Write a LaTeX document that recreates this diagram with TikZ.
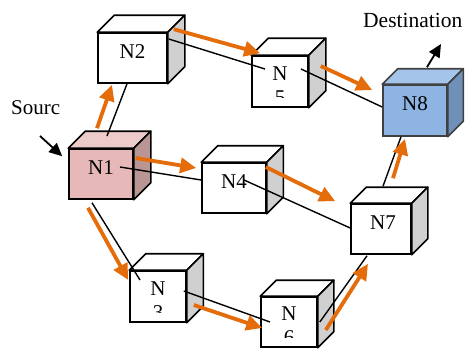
\documentclass[tikz,border=0pt]{standalone}
\usepackage{fontspec}
\setmainfont{Liberation Serif}
\usetikzlibrary{arrows.meta,positioning}
\definecolor{routeorange}{HTML}{E46C0A}
\definecolor{srcfront}{HTML}{E6B9B8}
\definecolor{srctop}{HTML}{EDCBCA}
\definecolor{srcside}{HTML}{B99594}
\definecolor{dstfront}{HTML}{8DB4E2}
\definecolor{dsttop}{HTML}{A5C4EA}
\definecolor{dstside}{HTML}{6F90B8}
\definecolor{dstline}{HTML}{404040}
\definecolor{cubeside}{HTML}{D0D0D0}

\begin{document}
\begin{tikzpicture}[
    x=1pt, y=-1pt,
    font=\fontsize{21}{24}\selectfont,
    cube/.style={rectangle, draw, line width=1.6pt, fill=white, inner sep=0pt, text height=10pt, text depth=10pt},
    caption/.style={anchor=base west, inner sep=0pt},
    link/.style={line width=1.4pt},
    route/.style={-{Triangle[length=16pt,width=15pt]}, line width=3.8pt, draw=routeorange},
    pointer/.style={-{Triangle[length=13pt,width=12pt]}, line width=1.8pt}
]
\useasboundingbox (0,0) rectangle (466,349);

\node[cube, fill=srcfront, minimum width=64pt, minimum height=50pt] (n1) at (101,174) {N1};
\node[cube, minimum width=69pt, minimum height=50pt] (n2) at (132.5,58) {N2};
\node[cube, minimum width=56pt, minimum height=51pt] (n3) at (158,296.5) {};
\node[cube, minimum width=64pt, minimum height=50pt] (n4) at (234,188) {N4};
\node[cube, minimum width=56pt, minimum height=51pt] (n5) at (280,81.5) {};
\node[cube, minimum width=56pt, minimum height=50pt] (n6) at (289,322) {};
\node[cube, minimum width=60pt, minimum height=50pt] (n7) at (381,229) {\hspace*{4pt}N7};
\node[cube, draw=dstline, fill=dstfront, minimum width=64pt, minimum height=51pt] (n8) at (415,110.5) {N8};

\foreach \c/\d/\tp/\sd/\ln in {n1/17/srctop/srcside/black, n2/17/white/cubeside/black,
    n3/16.5/white/cubeside/black, n4/16.5/white/cubeside/black, n5/17/white/cubeside/black,
    n6/16/white/cubeside/black, n7/16/white/cubeside/black, n8/15.5/dsttop/dstside/dstline}
{
    \draw[line width=1.6pt, draw=\ln, fill=\tp, line join=round] (\c.north west) -- ++(\d,-\d) -- ([shift={(\d,-\d)}]\c.north east) -- (\c.north east) -- cycle;
    \draw[line width=1.6pt, draw=\ln, fill=\sd, line join=round] (\c.north east) -- ++(\d,-\d) -- ([shift={(\d,-\d)}]\c.south east) -- (\c.south east) -- cycle;
}

\foreach \c/\t in {n3/3, n5/5, n6/6}
{
    \begin{scope}
    \clip (\c.north west) rectangle ([yshift=10pt]\c.south east);
    \node[align=center, inner sep=0pt] (\c-text) at ([shift={(0,4)}]\c.center) {N\\\t};
    \end{scope}
}

\node[caption] (src) at (11,114) {Sourc};
\node[caption, font=\fontsize{21.5}{26}\selectfont] (dst) at (363,27) {Destination};
\coordinate (srctail) at (40,136);
\coordinate (dsttip) at (441,44);

\draw[link] ([shift={(6,-38)}]n1.center) -- ([shift={(-5.5,0)}]n2.south);
\draw[link] ([shift={(1,-19)}]n2.east) -- ([shift={(-15,-12.5)}]n5.center);
\draw[link] ([shift={(21,-12.5)}]n5.center) -- ([shift={(0,-3.5)}]n8.west);
\draw[link] ([shift={(19,-7)}]n1.center) -- ([shift={(0,-8)}]n4.west);
\draw[link] ([shift={(10,-8)}]n4.center) -- ([shift={(0,-1)}]n7.west);
\draw[link] ([shift={(2,-17)}]n7.north) -- ([shift={(-14,0)}]n8.south);
\draw[link] ([shift={(-9,3)}]n1.south) -- ([shift={(-18,-16.5)}]n3.center);
\draw[link] ([shift={(-3,-5.5)}]n3.east) -- ([shift={(-19,0)}]n6.center);
\draw[link] ([shift={(2,0)}]n6.east) -- ([shift={(-14,1)}]n7.south);

\draw[route] ([shift={(-4,-20)}]n1.north) -- ([shift={(-20.5,1)}]n2.south);
\draw[route] ([shift={(6,-3)}]n2.north east) -- ([shift={(9,-2)}]n5.north west);
\draw[route] ([shift={(12,-15.5)}]n5.east) -- ([shift={(-10,-20.5)}]n8.west);
\draw[route] ([shift={(2,-16)}]n1.east) -- ([shift={(-5,-20)}]n4.west);
\draw[route] ([shift={(-1,-21)}]n4.east) -- ([shift={(-15,-2)}]n7.north west);
\draw[route] ([shift={(12,-25)}]n7.north) -- ([shift={(-10,2)}]n8.south);
\draw[route] ([shift={(-13,8)}]n1.south) -- ([shift={(-1,-16.5)}]n3.west);
\draw[route] ([shift={(7,8.5)}]n3.east) -- ([shift={(2,6)}]n6.west);
\draw[route] ([shift={(8,8)}]n6.east) -- ([shift={(-13,9)}]n7.south);

\draw[pointer] (srctail) -- ([shift={(-6,8)}]n1.north west);
\draw[pointer] ([shift={(12,-17)}]n8.north) -- (dsttip);
\end{tikzpicture}
\end{document}
